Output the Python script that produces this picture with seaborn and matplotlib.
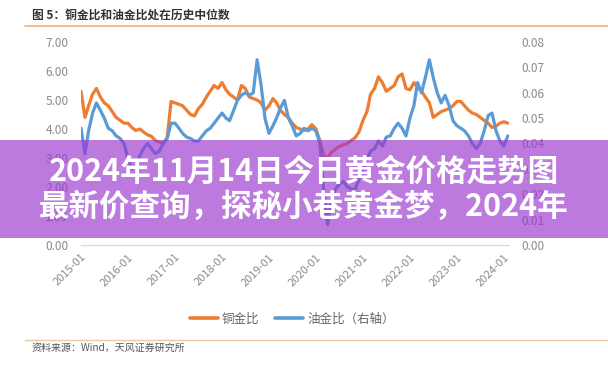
import matplotlib
matplotlib.use('Agg')
import matplotlib.pyplot as plt
from matplotlib.patches import Rectangle
from matplotlib.lines import Line2D
import pandas as pd
import seaborn as sns

# monthly points, 2015-01 .. 2024-02
months = pd.date_range('2015-01-01', periods=110, freq='MS')

copper_gold = [
    5.3, 4.4, 4.8, 5.2, 5.4, 5.1, 4.9, 4.8, 4.6, 4.4, 4.3, 4.2,
    4.2, 4.05, 3.95, 4.0, 3.9, 3.8, 3.75, 3.6, 3.55, 3.5, 3.7, 4.95,
    4.9, 4.85, 4.8, 4.65, 4.5, 4.45, 4.7, 4.85, 5.1, 5.3, 5.5, 5.4,
    5.6, 5.35, 5.2, 5.1, 5.0, 5.5, 5.4, 5.1, 5.05, 5.0, 4.9, 4.65,
    4.8, 5.05, 4.9, 4.65, 4.5, 4.4, 4.2, 4.05, 4.0, 3.95, 4.0, 4.15,
    4.0, 3.6, 3.1, 3.0, 3.2, 3.3, 3.4, 3.45, 3.5, 3.6, 3.7, 3.9,
    4.3, 4.6, 5.2, 5.4, 5.8, 5.6, 5.3, 5.4, 5.5, 5.8, 5.9, 5.4,
    5.35, 5.6, 5.45, 5.3, 5.1, 4.9, 4.4, 4.5, 4.6, 4.65, 4.7, 4.8,
    4.95, 4.95, 4.8, 4.65, 4.55, 4.5, 4.4, 4.3, 4.2, 4.05, 4.1, 4.2, 4.25, 4.2,
]

oil_gold = [
    0.046, 0.036, 0.045, 0.052, 0.056, 0.053, 0.050, 0.046, 0.045, 0.043, 0.042, 0.040,
    0.034, 0.030, 0.031, 0.035, 0.038, 0.040, 0.038, 0.036, 0.037, 0.040, 0.042, 0.048,
    0.048, 0.046, 0.044, 0.0425, 0.042, 0.041, 0.041, 0.043, 0.045, 0.046, 0.048, 0.050,
    0.052, 0.050, 0.049, 0.053, 0.057, 0.059, 0.060, 0.059, 0.060, 0.073, 0.063, 0.050,
    0.044, 0.047, 0.050, 0.054, 0.057, 0.050, 0.047, 0.043, 0.044, 0.046, 0.045, 0.046,
    0.045, 0.040, 0.022, 0.008, 0.018, 0.022, 0.024, 0.025, 0.023, 0.022, 0.022, 0.026,
    0.030, 0.034, 0.037, 0.038, 0.041, 0.039, 0.0425, 0.043, 0.046, 0.048, 0.046, 0.043,
    0.050, 0.055, 0.064, 0.060, 0.066, 0.073, 0.066, 0.060, 0.056, 0.059, 0.055, 0.049,
    0.047, 0.046, 0.045, 0.043, 0.040, 0.038, 0.040, 0.045, 0.051, 0.052, 0.045, 0.041, 0.039, 0.043,
]

year_ticks = ['2015-01', '2016-01', '2017-01', '2018-01', '2019-01',
              '2020-01', '2021-01', '2022-01', '2023-01', '2024-01']
left_ticks = [0, 1, 2, 3, 4, 5, 6, 7]
right_ticks = [0.0, 0.01, 0.02, 0.03, 0.04, 0.05, 0.06, 0.07, 0.08]

ORANGE = '#ED7D31'
BLUE = '#5B9BD5'
GREY = '#8a8a8a'

sns.set_style('white')
plt.rcParams['font.family'] = ['Noto Sans CJK SC', 'DejaVu Sans']

W, H = 608, 377
fig = plt.figure(figsize=(6.08, 3.77), dpi=100)
ax = fig.add_axes([81 / W, 132 / H, 428 / W, 203 / H])

df = pd.DataFrame({'month': months, 'copper': copper_gold, 'oil': oil_gold})
sns.lineplot(data=df, x='month', y='copper', ax=ax, color=ORANGE, lw=2.3)
ax2 = ax.twinx()
sns.lineplot(data=df, x='month', y='oil', ax=ax2, color=BLUE, lw=2.3)

ax.set_xlim(pd.Timestamp('2015-01-01'), pd.Timestamp('2024-02-10'))
ax.set_ylim(0, 7)
ax2.set_ylim(0, 0.08)
ax.set_yticks(left_ticks)
ax.set_yticklabels([f'{v:.2f}' for v in left_ticks])
ax2.set_yticks(right_ticks)
ax2.set_yticklabels([f'{v:.2f}' for v in right_ticks])
ax.set_xticks(pd.to_datetime(year_ticks))
ax.set_xticklabels(year_ticks, rotation=45, ha='right', rotation_mode='anchor')
for a in (ax, ax2):
    a.set_xlabel('')
    a.set_ylabel('')
    for s in ('top', 'left', 'right'):
        a.spines[s].set_visible(False)
    a.spines['bottom'].set_color('#d9d9d9')
    a.spines['bottom'].set_linewidth(0.8)
ax.tick_params(axis='x', direction='in', length=4, color='#d9d9d9', pad=5,
               labelsize=8, labelcolor=GREY)
ax.tick_params(axis='y', length=0, pad=9, labelsize=8.5, labelcolor=GREY)
ax2.tick_params(axis='y', length=0, pad=9, labelsize=8.5, labelcolor=GREY)

# header, footer
fig.text(32 / W, 1 - 15 / H, '图 5：铜金比和油金比处在历史中位数', fontsize=8.5,
         fontweight='bold', color='#333333', va='center', ha='left')
fig.add_artist(Line2D([25 / W, 1.0], [1 - 26 / H] * 2, color='#eeb27a', lw=1.2))
fig.add_artist(Line2D([25 / W, 1.0], [1 - 340 / H] * 2, color='#ecc9a2', lw=1.0))
fig.text(32 / W, 1 - 348 / H, '资料来源：Wind，天风证券研究所', fontsize=7.2,
         color='#555555', va='center', ha='left')

handles = [Line2D([], [], color=ORANGE, lw=2.6), Line2D([], [], color=BLUE, lw=2.6)]
fig.legend(handles, ['铜金比', '油金比（右轴）'], loc='center',
           bbox_to_anchor=(292 / W, 1 - 319 / H), ncol=2, frameon=False,
           fontsize=9, handlelength=2.3, handletextpad=0.3, columnspacing=1.2,
           labelcolor='#666666')

# purple caption band
fig.add_artist(Rectangle((0, 1 - 238 / H), 1, 98 / H, transform=fig.transFigure,
                         facecolor='#9a36cf', alpha=0.66, edgecolor='none', zorder=4))
fig.text(0.5, 1 - 172 / H, '2024年11月14日今日黄金价格走势图', fontsize=22,
         fontweight='bold', color='white', ha='center', va='center', zorder=5)
fig.text(0.5, 1 - 207 / H, '最新价查询，探秘小巷黄金梦，2024年', fontsize=22,
         fontweight='bold', color='white', ha='center', va='center', zorder=5)

fig.savefig('out.png', dpi=100)
